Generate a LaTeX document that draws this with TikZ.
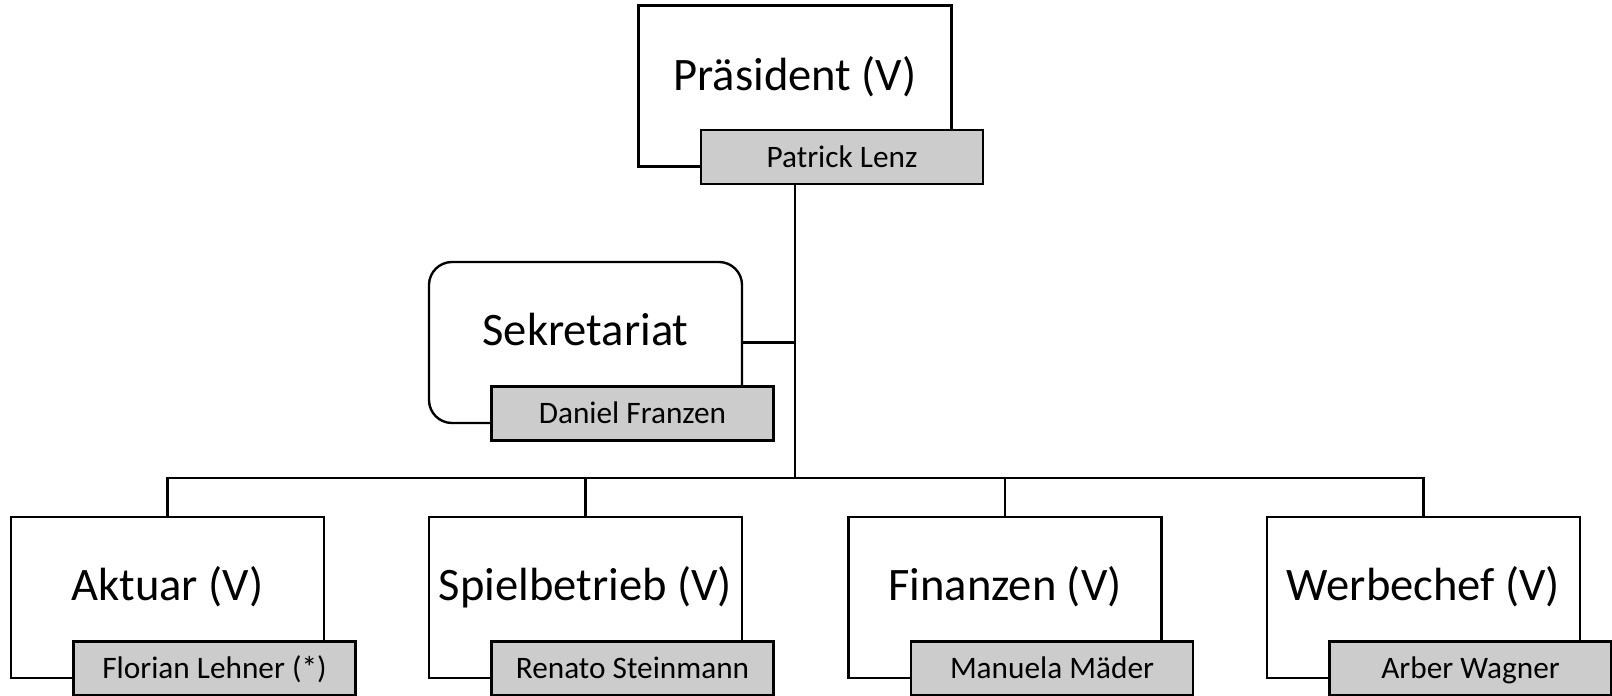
\documentclass[tikz,border=0pt]{standalone}
\usepackage{fontspec}
\setmainfont{Carlito}
\usepackage{xcolor}
\usepackage{tikz}
\usetikzlibrary{calc,positioning}
\definecolor{ink}{HTML}{000000}
\definecolor{namefill}{HTML}{CCCCCC}
\tikzset{
  role/.style={draw=ink, line width=1.35pt, fill=white, minimum width=6.26cm, minimum height=3.22cm, inner sep=0pt},
  office/.style={role, rounded corners=0.46cm},
  person/.style={draw=ink, line width=1.35pt, fill=namefill, minimum width=5.64cm, minimum height=1.08cm, inner sep=0pt, anchor=south west, text height=11.46pt, text depth=0pt, font=\fontsize{17.8}{20}\selectfont},
  title/.style={text=ink, inner sep=0pt, text height=17.07pt, text depth=0pt, font=\fontsize{26.5}{30}\selectfont},
  link/.style={draw=ink, line width=1.35pt},
}

\begin{document}
\begin{tikzpicture}
\useasboundingbox (0,0) rectangle (32.24,-13.92);
\coordinate (hub) at (15.9,-9.56);

\node[role] (pres) at (15.9,-1.72) {};
\node[title] (pres-t) at ([yshift=0.2cm]pres.center) {Präsident (V)};
\node[person] (pres-p) at ([shift={(1.25,-0.35)}]pres.south west) {Patrick Lenz};

\node[office] (sek) at (11.71,-6.85) {};
\node[title] (sek-t) at ([yshift=0.24cm]sek.center) {Sekretariat};
\node[person] (sek-p) at ([shift={(1.25,-0.35)}]sek.south west) {Daniel Franzen};

\node[role] (akt) at (3.35,-11.95) {};
\node[title] (akt-t) at ([yshift=0.24cm]akt.center) {Aktuar (V)};
\node[person] (akt-p) at ([shift={(1.25,-0.35)}]akt.south west) {Florian Lehner (*)};

\node[role] (spiel) at (11.71,-11.95) {};
\node[title] (spiel-t) at ([yshift=0.24cm]spiel.center) {Spielbetrieb (V)};
\node[person] (spiel-p) at ([shift={(1.25,-0.35)}]spiel.south west) {Renato Steinmann};

\node[role] (fin) at (20.1,-11.95) {};
\node[title] (fin-t) at ([yshift=0.24cm]fin.center) {Finanzen (V)};
\node[person] (fin-p) at ([shift={(1.25,-0.35)}]fin.south west) {Manuela Mäder};

\node[role] (werb) at (28.47,-11.95) {};
\node[title] (werb-t) at ([yshift=0.24cm]werb.center) {Werbechef (V)};
\node[person] (werb-p) at ([shift={(1.25,-0.35)}]werb.south west) {Arber Wagner};

\draw[link] (pres.south |- pres-p.south) -- (hub);
\draw[link] (sek.east) -- (sek.east -| hub);
\draw[link] (hub) -| (akt.north);
\draw[link] (hub) -| (spiel.north);
\draw[link] (hub) -| (fin.north);
\draw[link] (hub) -| (werb.north);
\end{tikzpicture}
\end{document}
